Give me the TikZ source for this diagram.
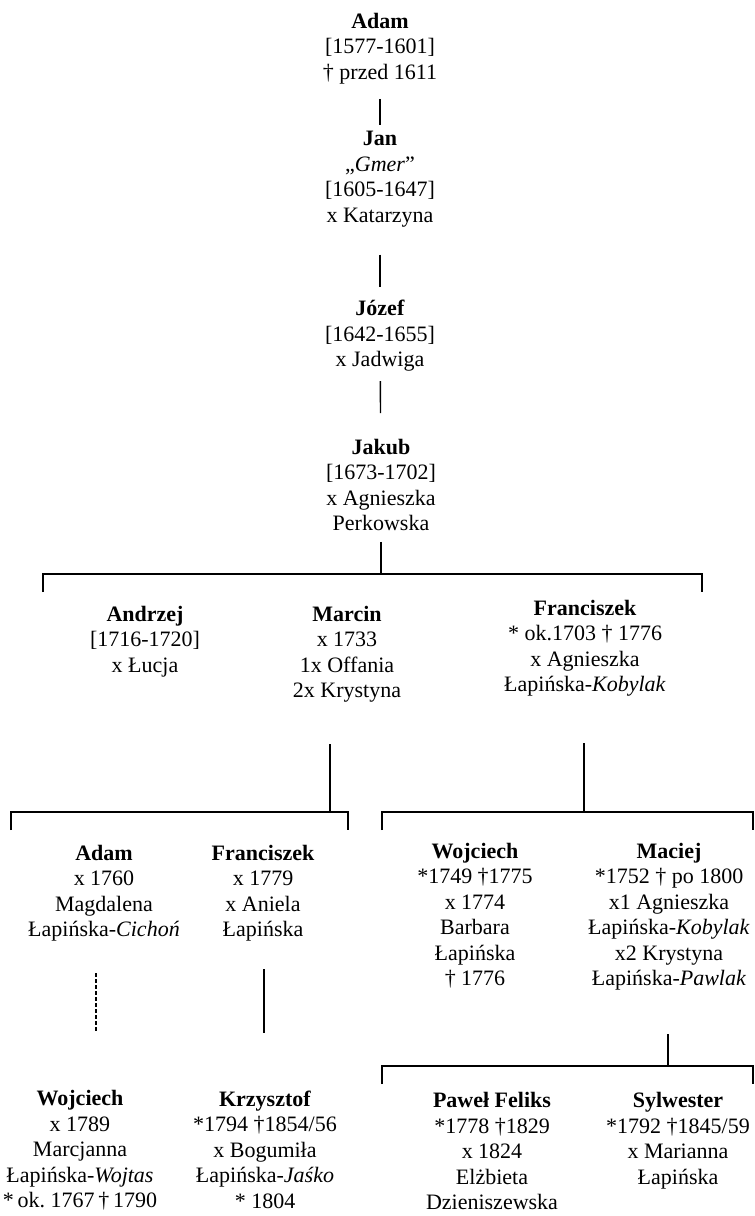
\documentclass[tikz,border=0pt]{standalone}
\usepackage{fontspec}
\setmainfont{Liberation Serif}

\begin{document}
\begin{tikzpicture}[x=0.5pt,y=-0.5pt,line width=0.7pt,osoba/.style={anchor=north,align=center,inner sep=0pt,font=\fontsize{11}{12.75}\selectfont},kropki/.style={dash pattern=on 1.7pt off 1.3pt}]
		\useasboundingbox (0,0) rectangle (755,1216);

		\node[osoba] (adam1) at (380,12.5) {\textbf{Adam}\\{[}1577-1601]\\† przed 1611};
		\node[osoba] (jan) at (380,130.5) {\textbf{Jan}\\„\textit{Gmer}”\\{[}1605-1647]\\x Katarzyna};
		\node[osoba] (jozef) at (380,299.5) {\textbf{Józef}\\{[}1642-1655]\\x Jadwiga};
		\node[osoba] (jakub) at (381,438.5) {\textbf{Jakub}\\{[}1673-1702]\\x Agnieszka\\Perkowska};

		\node[osoba] (andrzej) at (145,605.5) {\textbf{Andrzej}\\{[}1716-1720]\\x Łucja};
		\node[osoba] (marcin) at (347,605.5) {\textbf{Marcin}\\x 1733\\1x Offania\\2x Krystyna};
		\node[osoba] (franciszek1) at (585,599.5) {\textbf{Franciszek}\\{*} ok.1703 † 1776\\x Agnieszka\\Łapińska-\textit{Kobylak}};

		\node[osoba] (adam2) at (104,844.5) {\textbf{Adam}\\x 1760\\Magdalena\\Łapińska-\textit{Cichoń}};
		\node[osoba] (franciszek2) at (263,844.5) {\textbf{Franciszek}\\x 1779\\x Aniela\\Łapińska};
		\node[osoba] (wojciech1) at (475,842.5) {\textbf{Wojciech}\\{*}1749 †1775\\x 1774\\Barbara\\Łapińska\\† 1776};
		\node[osoba] (maciej) at (669,842.5) {\textbf{Maciej}\\{*}1752 † po 1800\\x1 Agnieszka\\Łapińska-\textit{Kobylak}\\x2 Krystyna\\Łapińska-\textit{Pawlak}};

		\node[osoba] (wojciech2) at (80,1090) {\textbf{Wojciech}\\x 1789\\Marcjanna\\Łapińska-\textit{Wojtas}\\{\spaceskip=0.17em\relax {*} ok. 1767 † 1790}};
		\node[osoba] (krzysztof) at (265,1090) {\textbf{Krzysztof}\\{*}1794 †1854/56\\x Bogumiła\\Łapińska-\textit{Jaśko}\\{*} 1804};
		\node[osoba] (pawel) at (492,1092) {\textbf{Paweł Feliks}\\{*}1778 †1829\\x 1824\\Elżbieta\\Dzieniszewska};
		\node[osoba] (sylwester) at (678,1092) {\textbf{Sylwester}\\{*}1792 †1845/59\\x Marianna\\Łapińska};

		\coordinate (b1l) at (43,574);
		\coordinate (b1r) at (702,574);
		\coordinate (b2l) at (11,812);
		\coordinate (b2r) at (348,812);
		\coordinate (b2m) at (330,812);
		\coordinate (b3l) at (382,812);
		\coordinate (b3r) at (753,812);
		\coordinate (b3m) at (584,812);
		\coordinate (b4l) at (382,1066);
		\coordinate (b4r) at (753,1066);
		\coordinate (b4m) at (668,1066);

		\draw[shorten <=7pt,shorten >=2.75pt] (adam1) -- (jan);
		\draw[shorten <=13.5pt,shorten >=6.25pt] (jan) -- (jozef);
		\draw[shorten <=4.5pt,shorten >=12.75pt] (jozef) -- (jakub);
		\draw[shorten <=5pt] (jakub) -- (jakub |- b1l);
		\draw ([yshift=-9pt]b1l) -- (b1l) -- (b1r) -- ([yshift=-9pt]b1r);

		\draw[shorten <=20.5pt] (marcin.south -| b2m) -- (b2m);
		\draw ([yshift=-9pt]b2l) -- (b2l) -- (b2r) -- ([yshift=-9pt]b2r);
		\draw[shorten <=23pt] (franciszek1.south -| b3m) -- (b3m);
		\draw ([yshift=-9pt]b3l) -- (b3l) -- (b3r) -- ([yshift=-9pt]b3r);

		\draw[kropki,shorten <=15.5pt,shorten >=28.5pt] ([xshift=-4pt]adam2.south) -- ([xshift=8pt]wojciech2.north);
		\draw[shorten <=13.5pt,shorten >=28.5pt] ([xshift=0.5pt]franciszek2.south) -- ([xshift=-0.5pt]krzysztof.north);

		\draw[shorten <=21.5pt] (maciej.south -| b4m) -- (b4m);
		\draw ([yshift=-9pt]b4l) -- (b4l) -- (b4r) -- ([yshift=-9pt]b4r);

		\end{tikzpicture}
\end{document}
